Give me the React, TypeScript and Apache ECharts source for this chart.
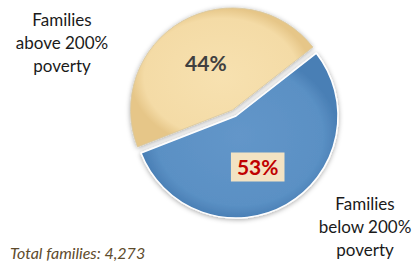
import React, { useEffect, useRef } from "react";
import * as echarts from "echarts";

const categories = ["Families below 200% poverty", "Families above 200% poverty"];
const values = [53, 44];
const sliceColors = [
  ["#6396c9", "#5a90c4", "#4a7fb5"],
  ["#f7e1b0", "#f4dba6", "#e6c688"],
];
const labelColors = ["#c00000", "#404040"];
const totalText = "Total families: 4,273";

export default function App() {
  const ref = useRef<HTMLDivElement>(null);
  useEffect(() => {
    if (!ref.current) return;
    const chart = echarts.init(ref.current, null, { renderer: "svg" });
    const cx = 236;
    const cy = 116;
    const data = categories.map((name, i) => ({
      name,
      value: values[i],
      selected: i === 1,
      itemStyle: {
        color: new echarts.graphic.RadialGradient(0.5, 0.5, 0.5, [
          { offset: 0, color: sliceColors[i][0] },
          { offset: 0.85, color: sliceColors[i][1] },
          { offset: 1, color: sliceColors[i][2] },
        ]),
        borderColor: i === 0 ? "#ffffff" : "#d8c8a0",
        borderWidth: i === 0 ? 1.5 : 0.8,
        shadowBlur: 5,
        shadowColor: "rgba(0,0,0,0.35)",
        shadowOffsetX: 0,
        shadowOffsetY: 1,
      },
      label: {
        color: labelColors[i],
        backgroundColor: i === 0 ? "#f3e3c3" : "transparent",
        padding: i === 0 ? [5, 6, 3, 6] : 0,
        offset: i === 0 ? [-5, 4] : [-6, 4],
      },
    }));
    const sideLabel = {
      fontFamily: "Lato, 'Open Sans', sans-serif",
      fontSize: 17,
      lineHeight: 23,
      fill: "#1a1a1a",
      align: "center",
      verticalAlign: "top",
    };
    chart.setOption({
      animation: false,
      series: [
        {
          type: "pie",
          center: [cx, cy],
          radius: 102,
          startAngle: 38,
          clockwise: true,
          selectedMode: "single",
          selectedOffset: 7,
          avoidLabelOverlap: false,
          label: {
            show: true,
            position: "inside",
            formatter: "{c}%",
            fontFamily: "Lato, 'Open Sans', sans-serif",
            fontWeight: "bold",
            fontSize: 21,
          },
          labelLine: { show: false },
          emphasis: { disabled: true },
          data,
        },
      ],
      graphic: [
        {
          type: "text",
          x: 62,
          y: 8,
          style: { ...sideLabel, text: "Families\nabove 200%\npoverty" },
        },
        {
          type: "text",
          x: 365,
          y: 192,
          style: { ...sideLabel, text: "Families\nbelow 200%\npoverty" },
        },
        {
          type: "text",
          x: 10,
          y: 244,
          style: {
            text: totalText,
            fontFamily: "Lato, 'Open Sans', sans-serif",
            fontStyle: "italic",
            fontSize: 16,
            fill: "#5e4b2c",
            verticalAlign: "top",
          },
        },
      ],
    });
    return () => chart.dispose();
  }, []);
  return <div ref={ref} style={{ width: 415, height: 262, position: "absolute", left: 0, top: 0 }} />;
}
